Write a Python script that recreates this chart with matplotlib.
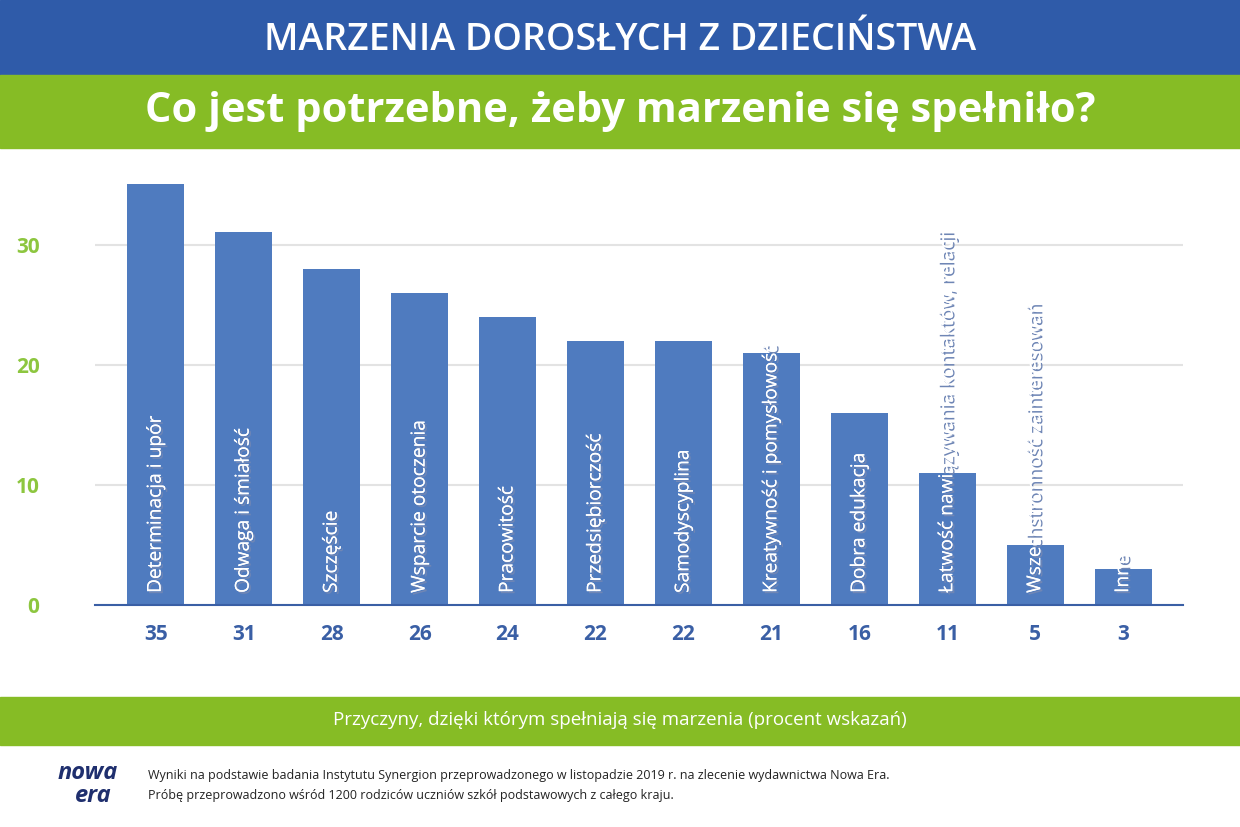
import matplotlib
matplotlib.use("Agg")
import matplotlib.pyplot as plt
import matplotlib.patheffects as pe
from matplotlib.patches import Rectangle

categories = ["Determinacja i upór", "Odwaga i śmiałość", "Szczęście", "Wsparcie otoczenia",
              "Pracowitość", "Przedsiębiorczość", "Samodyscyplina", "Kreatywność i pomysłowość",
              "Dobra edukacja", "Łatwość nawiązywania kontaktów, relacji",
              "Wszechstronność zainteresowań", "Inne"]
values = [35, 31, 28, 26, 24, 22, 22, 21, 16, 11, 5, 3]
yticks = [0, 10, 20, 30]

plt.rcParams['font.family'] = ['Open Sans', 'DejaVu Sans']
W, H = 1240, 827
fig = plt.figure(figsize=(12.4, 8.27), dpi=100)
BLUE = '#2f5ba9'
GREEN = '#86bc25'
BAR = '#4f7bbf'

def band(y0, y1, color):
    fig.patches.append(Rectangle((0, 1 - y1 / H), 1, (y1 - y0) / H, transform=fig.transFigure, color=color, zorder=0))

band(0, 75, BLUE)
band(75, 148, GREEN)
band(697, 745, GREEN)
fig.text(0.5, 1 - 40 / H, "MARZENIA DOROSŁYCH Z DZIECIŃSTWA", ha='center', va='center', color='white', fontsize=27, fontweight='semibold')
fig.text(0.5, 1 - 111 / H, "Co jest potrzebne, żeby marzenie się spełniło?", ha='center', va='center', color='white', fontsize=30, fontweight='bold')
fig.text(0.5, 1 - 720 / H, "Przyczyny, dzięki którym spełniają się marzenia (procent wskazań)", ha='center', va='center', color='white', fontsize=13.5)
fig.text(148 / W, 1 - 776 / H, "Wyniki na podstawie badania Instytutu Synergion przeprowadzonego w listopadzie 2019 r. na zlecenie wydawnictwa Nowa Era.", ha='left', va='center', color='#222222', fontsize=9)
fig.text(148 / W, 1 - 796 / H, "Próbę przeprowadzono wśród 1200 rodziców uczniów szkół podstawowych z całego kraju.", ha='left', va='center', color='#222222', fontsize=9)
fig.text(88 / W, 1 - 773 / H, "nowa", ha='center', va='center', color='#1f2f6e', fontsize=17, fontweight='bold', style='italic')
fig.text(93 / W, 1 - 796 / H, "era", ha='center', va='center', color='#1f2f6e', fontsize=17, fontweight='bold', style='italic')

ax = fig.add_axes([95 / W, 1 - 605 / H, (1183 - 95) / W, (605 - 170) / H])
x = list(range(len(values)))
ax.bar(x, values, width=0.65, color=BAR, zorder=2)
ax.set_xlim(-0.69, 11.68)
ax.set_ylim(0, 36.2)
ax.set_yticks(yticks)
ax.yaxis.grid(True, color='#e3e3e3', linewidth=1.5, zorder=0)
ax.tick_params(axis='y', length=0, pad=40, labelcolor='#8dc63f', labelsize=15)
for t in ax.get_yticklabels():
    t.set_fontweight('bold')
ax.set_xticks(x)
ax.set_xticklabels([str(v) for v in values], color='#3a5fa5', fontsize=15, fontweight='bold')
ax.tick_params(axis='x', length=0, pad=14)
for s in ['top', 'right', 'left']:
    ax.spines[s].set_visible(False)
ax.spines['bottom'].set_color('#3a5fa5')
ax.spines['bottom'].set_linewidth(1.5)
for xi, c in zip(x, categories):
    ax.text(xi, 1.0, c, rotation=90, ha='center', va='bottom', color='white', fontsize=13.8, zorder=3,
            path_effects=[pe.withSimplePatchShadow(offset=(1.5, -1.5), shadow_rgbFace='#6f86b5', alpha=1.0), pe.Normal()])
fig.savefig("out.png", dpi=100)
